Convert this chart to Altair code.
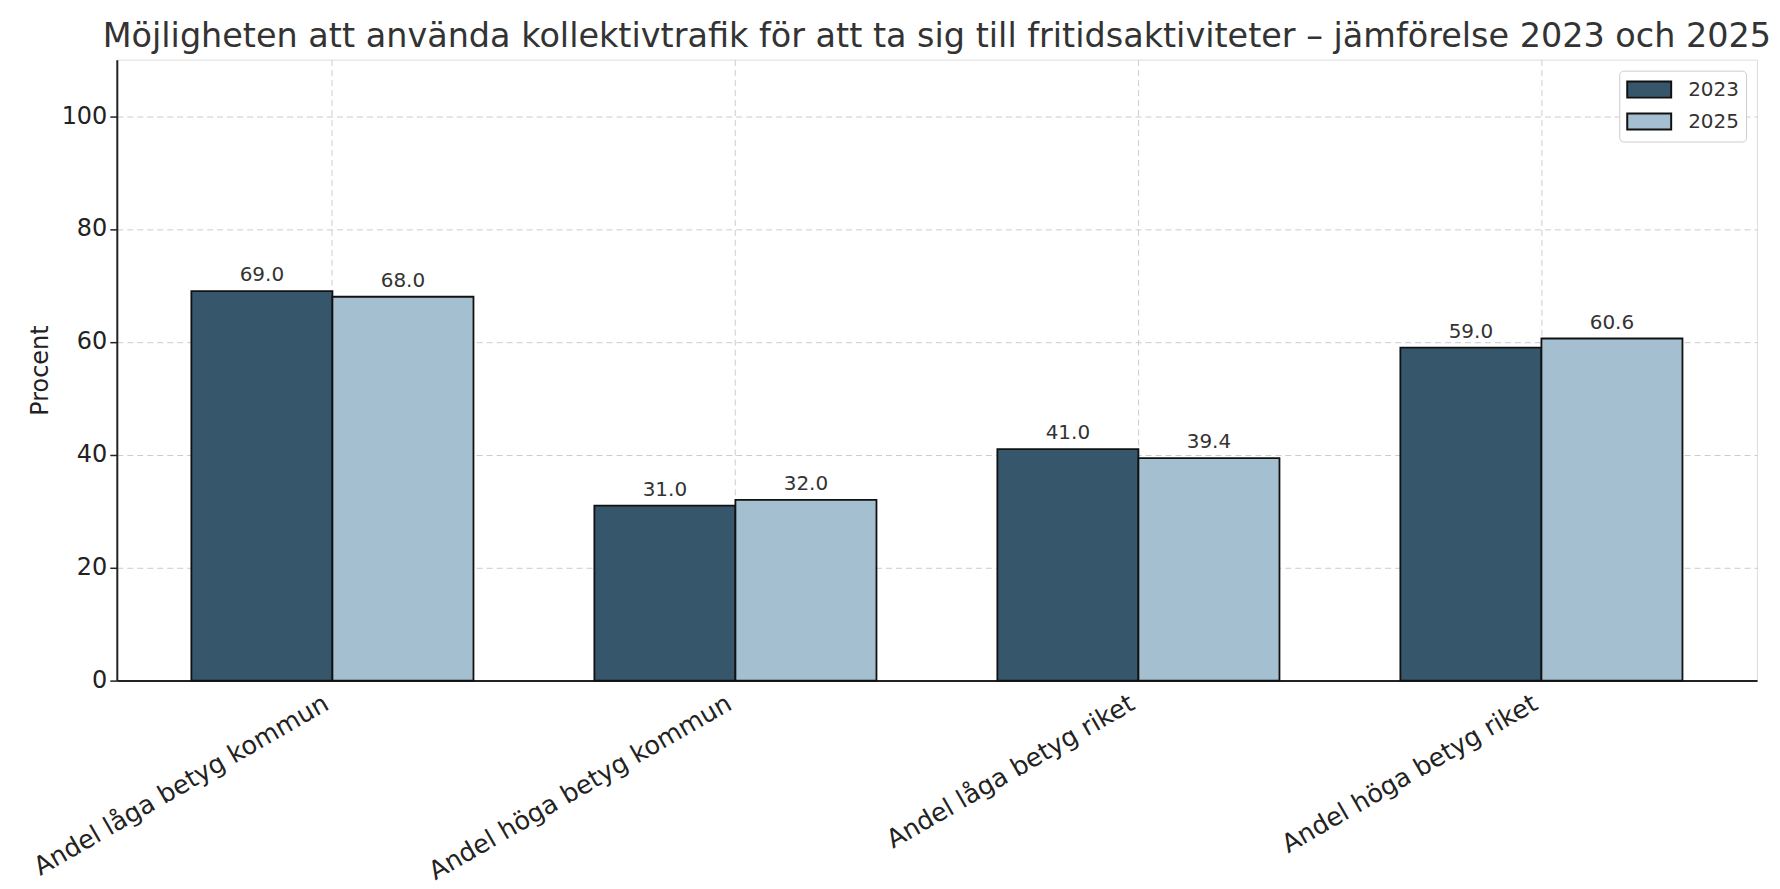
import altair as alt
import pandas as pd

# ---- data ----
categories = [
    "Andel låga betyg kommun",
    "Andel höga betyg kommun",
    "Andel låga betyg riket",
    "Andel höga betyg riket",
]
years = ["2023", "2025"]
values_2023 = [69.0, 31.0, 41.0, 59.0]
values_2025 = [68.0, 32.0, 39.4, 60.6]
y_ticks = [0, 20, 40, 60, 80, 100]
colors = ["#36566b", "#a4bfd0"]

rows = []
for c, a, b in zip(categories, values_2023, values_2025):
    rows.append({"Kategori": c, "År": years[0], "Procent": a})
    rows.append({"Kategori": c, "År": years[1], "Procent": b})
df = pd.DataFrame(rows)
df["Etikett"] = df["Procent"].map(lambda v: f"{v:.1f}")

FONT = "DejaVu Sans"

x = alt.X(
    "Kategori:N",
    sort=categories,
    scale=alt.Scale(paddingInner=0.3, paddingOuter=0.185),
    axis=alt.Axis(
        title=None,
        labelAngle=330,
        labelAlign="right",
        labelBaseline="top",
        labelFontSize=25.5,
        labelColor="#222",
        labelPadding=10,
        labelOffset=-12,
        labelFont=FONT,
        bandPosition=0.5,
        grid=True,
        gridColor="#cccccc",
        gridDash=[6, 4],
        gridWidth=1,
        domainColor="#222",
        domainWidth=2,
        tickColor="#222",
        tickWidth=1.5,
        tickSize=0,
        labelLimit=600,
    ),
)
xo = alt.XOffset("År:N", sort=years, scale=alt.Scale(paddingInner=0, paddingOuter=0))
y = alt.Y(
    "Procent:Q",
    scale=alt.Scale(domain=[0, 110], nice=False, zero=True),
    axis=alt.Axis(
        values=y_ticks,
        title="Procent",
        titleFontSize=24,
        titleFontWeight="normal",
        titleColor="#222",
        titleFont=FONT,
        titleX=-76,
        titleY=311,
        titleAngle=270,
        titleAlign="center",
        titleBaseline="middle",
        labelFontSize=24,
        labelColor="#222",
        labelFont=FONT,
        labelPadding=3,
        tickSize=7,
        tickColor="#222",
        tickWidth=1.5,
        domainColor="#222",
        domainWidth=2,
        grid=True,
        gridColor="#cccccc",
        gridDash=[6, 4],
        gridWidth=1,
    ),
)
color = alt.Color(
    "År:N",
    scale=alt.Scale(domain=years, range=colors),
    legend=alt.Legend(
        title=None,
        orient="top-right",
        offset=11,
        padding=7,
        strokeColor="#cccccc",
        fillColor="white",
        cornerRadius=4,
        symbolType="M-2,-0.73H2V0.73H-2Z",
        symbolSize=484,
        symbolOffset=11,
        symbolStrokeColor="#111",
        symbolStrokeWidth=2,
        symbolOpacity=1,
        labelFontSize=20,
        labelColor="#333",
        labelFont=FONT,
        labelOffset=27,
        rowPadding=6,
    ),
)

bars = alt.Chart(df).mark_bar(stroke="#111", strokeWidth=1.8, opacity=1).encode(
    x=x, xOffset=xo, y=y, color=color
)
labels = alt.Chart(df).mark_text(
    fontSize=20, dy=-10, baseline="alphabetic", align="center", color="#333", font=FONT
).encode(x=x, xOffset=xo, y=y, text="Etikett:N")

chart = (
    alt.layer(bars, labels)
    .properties(
        width=1643,
        height=622,
        autosize=alt.AutoSizeParams(type="none"),
        padding={"left": 109, "top": 51, "right": 15, "bottom": 205},
        title=alt.TitleParams(
            "Möjligheten att använda kollektivtrafik för att ta sig till fritidsaktiviteter – jämförelse 2023 och 2025",
            fontSize=33.5,
            fontWeight="normal",
            color="#333",
            font=FONT,
            anchor="middle",
            offset=5,
        ),
        background="white",
    )
    .configure_view(stroke=None)
    .configure(font=FONT)
)

chart.save("out.html", embed_options={"renderer": "svg", "actions": False})
